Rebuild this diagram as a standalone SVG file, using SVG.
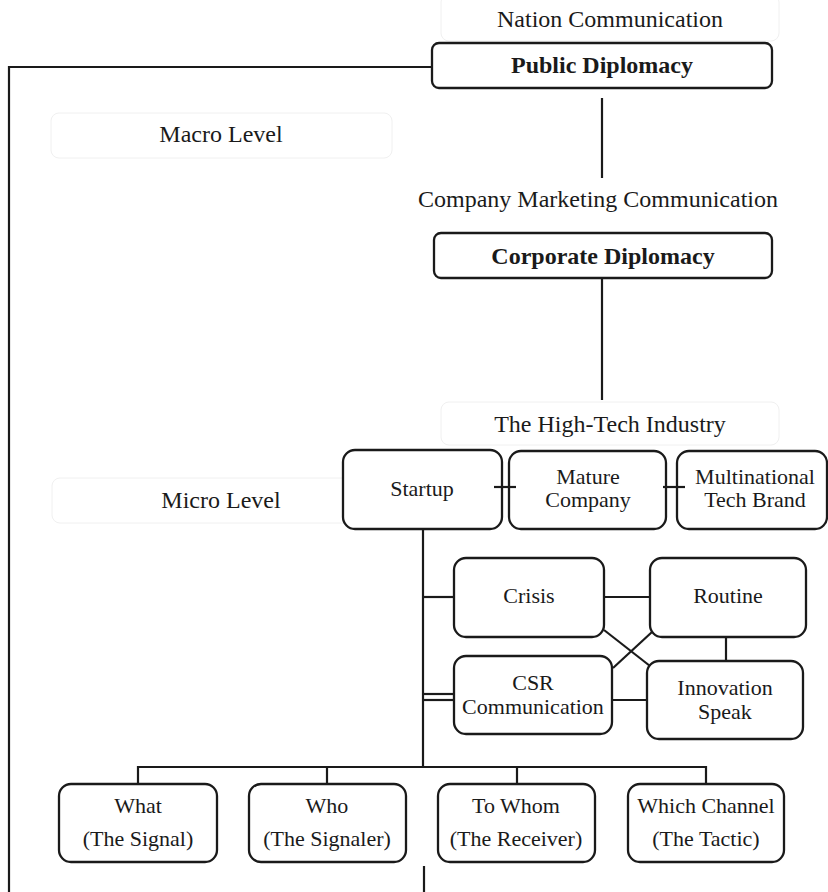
<svg xmlns="http://www.w3.org/2000/svg" width="828" height="892" viewBox="0 0 828 892">
<style>
.bg{fill:#ffffff}
.faint{fill:none;stroke:#f0f0f0;stroke-width:1}
.box{fill:#ffffff;stroke:#1a1a1a;stroke-width:2.3}
.t{font-family:"Liberation Serif","Times New Roman",serif;font-size:24px;fill:#1a1a1a;text-anchor:middle}
.s{font-size:22px}
.b{font-weight:bold}
.ln{fill:none;stroke:#1a1a1a;stroke-width:2.2}
</style>
<rect class="bg" x="0" y="0" width="828" height="892"/>
<g id="labels">
  <rect class="faint" x="441" y="-6" width="338" height="47" rx="8"/>
  <text class="t" x="610" y="27">Nation Communication</text>
  <rect class="faint" x="51" y="113" width="341" height="45" rx="8"/>
  <text class="t" x="221" y="142">Macro Level</text>
  <text class="t" x="598" y="207">Company Marketing Communication</text>
  <rect class="faint" x="441" y="402" width="338" height="43" rx="8"/>
  <text class="t" x="610" y="432">The High-Tech Industry</text>
  <rect class="faint" x="52" y="478" width="341" height="45" rx="8"/>
  <text class="t" x="221" y="508">Micro Level</text>
</g>
<g id="public-diplomacy">
  <rect class="box" x="432" y="43" width="340" height="45" rx="7"/>
  <text class="t b" x="602" y="73">Public Diplomacy</text>
</g>
<g id="corporate-diplomacy">
  <rect class="box" x="434" y="233" width="338" height="45" rx="7"/>
  <text class="t b" x="603" y="264">Corporate Diplomacy</text>
</g>
<g id="startup">
  <rect class="box" x="343" y="450" width="159" height="79" rx="12"/>
  <text class="t s" x="422" y="496">Startup</text>
</g>
<g id="mature-company">
  <rect class="box" x="509" y="451" width="157" height="78" rx="12"/>
  <text class="t s" x="588" y="484">Mature</text>
  <text class="t s" x="588" y="507">Company</text>
</g>
<g id="multinational">
  <rect class="box" x="677" y="451" width="150" height="78" rx="12"/>
  <text class="t s" x="755" y="484">Multinational</text>
  <text class="t s" x="755" y="507">Tech Brand</text>
</g>
<g id="crisis">
  <rect class="box" x="454" y="558" width="150" height="79" rx="12"/>
  <text class="t s" x="529" y="603">Crisis</text>
</g>
<g id="routine">
  <rect class="box" x="650" y="558" width="156" height="79" rx="12"/>
  <text class="t s" x="728" y="603">Routine</text>
</g>
<g id="csr">
  <rect class="box" x="454" y="656" width="158" height="78" rx="12"/>
  <text class="t s" x="533" y="690">CSR</text>
  <text class="t s" x="533" y="714">Communication</text>
</g>
<g id="innovation">
  <rect class="box" x="647" y="661" width="156" height="78" rx="12"/>
  <text class="t s" x="725" y="695">Innovation</text>
  <text class="t s" x="725" y="719">Speak</text>
</g>
<g id="what">
  <rect class="box" x="59" y="784" width="158" height="78" rx="12"/>
  <text class="t s" x="138" y="813">What</text>
  <text class="t s" x="138" y="846">(The Signal)</text>
</g>
<g id="who">
  <rect class="box" x="249" y="784" width="157" height="78" rx="12"/>
  <text class="t s" x="327" y="813">Who</text>
  <text class="t s" x="327" y="846">(The Signaler)</text>
</g>
<g id="to-whom">
  <rect class="box" x="438" y="784" width="157" height="78" rx="12"/>
  <text class="t s" x="516" y="813">To Whom</text>
  <text class="t s" x="516" y="846">(The Receiver)</text>
</g>
<g id="which-channel">
  <rect class="box" x="628" y="784" width="156" height="78" rx="12"/>
  <text class="t s" x="706" y="813">Which Channel</text>
  <text class="t s" x="706" y="846">(The Tactic)</text>
</g>
<g id="connectors">
  <polyline class="ln" points="432,67 9,67 9,892"/>
  <line class="ln" x1="602" y1="98" x2="602" y2="178"/>
  <line class="ln" x1="602" y1="278" x2="602" y2="400"/>
  <line class="ln" x1="494" y1="487" x2="516" y2="487"/>
  <line class="ln" x1="663" y1="487" x2="685" y2="487"/>
  <line class="ln" x1="423" y1="529" x2="423" y2="767"/>
  <line class="ln" x1="423" y1="597" x2="454" y2="597"/>
  <line class="ln" x1="423" y1="694" x2="454" y2="694"/>
  <line class="ln" x1="423" y1="700" x2="454" y2="700"/>
  <line class="ln" x1="604" y1="597" x2="650" y2="597"/>
  <line class="ln" x1="604" y1="630" x2="650" y2="666"/>
  <line class="ln" x1="652" y1="632" x2="613" y2="668"/>
  <line class="ln" x1="726" y1="637" x2="726" y2="661"/>
  <line class="ln" x1="612" y1="700" x2="647" y2="700"/>
  <polyline class="ln" points="138,784 138,767 706,767 706,784"/>
  <line class="ln" x1="327" y1="767" x2="327" y2="784"/>
  <line class="ln" x1="517" y1="767" x2="517" y2="784"/>
  <line class="ln" x1="424" y1="866" x2="424" y2="892"/>
</g>
</svg>
